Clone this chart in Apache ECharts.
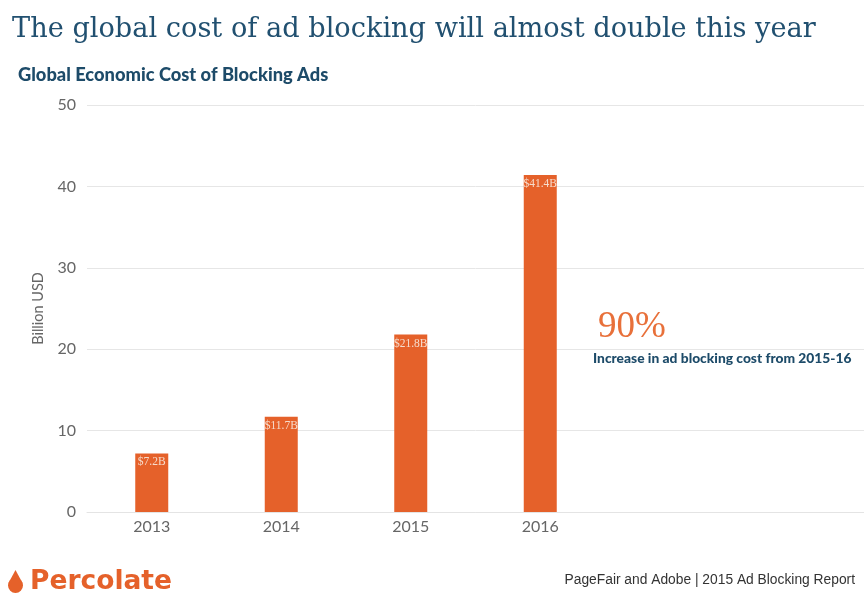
<!DOCTYPE html>
<html>
<head>
<meta charset="utf-8">
<script src="https://cdn.jsdelivr.net/npm/echarts@6/dist/echarts.min.js"></script>
<style>
  html, body { margin: 0; padding: 0; background: #ffffff; }
  #chart { width: 864px; height: 593px; }
</style>
</head>
<body>
<div id="chart"></div>
<script>
// Global economic cost of blocking ads, billion USD
const years = ['2013', '2014', '2015', '2016'];
const costs = [7.2, 11.7, 21.8, 41.4];
const costLabels = ['$7.2B', '$11.7B', '$21.8B', '$41.4B'];
const yTicks = [0, 10, 20, 30, 40, 50];

// two empty slots keep the plot running to the right edge, leaving room for the note
const slots = years.concat(['', '']);

const NAVY = '#1d4b69';
const ORANGE = '#e5612a';

const chart = echarts.init(document.getElementById('chart'), null, { renderer: 'canvas' });

chart.setOption({
  animation: false,
  backgroundColor: '#ffffff',
  title: [
    {
      text: 'The global cost of ad blocking will almost double this year',
      left: 12, top: 16, padding: 0,
      textStyle: { fontFamily: 'DejaVu Serif', fontWeight: 'normal', fontSize: 27.2, color: '#215070' }
    },
    {
      text: 'Global Economic Cost of Blocking Ads',
      left: 18, top: 66, padding: 0,
      textStyle: { fontFamily: 'Lato', fontWeight: 900, fontSize: 18.3, color: NAVY }
    },
    {
      text: '90%',
      left: 598, top: 309, padding: 0,
      textStyle: { fontFamily: 'Liberation Serif', fontWeight: 'normal', fontSize: 37, color: '#e8703a' }
    },
    {
      text: 'Increase in ad blocking cost from 2015-16',
      left: 593, top: 352, padding: 0,
      textStyle: { fontFamily: 'Lato', fontWeight: 900, fontSize: 13.8, color: NAVY }
    },
    {
      text: 'Percolate',
      left: 30, top: 569, padding: 0,
      textStyle: { fontFamily: 'DejaVu Sans', fontWeight: 'bold', fontSize: 26.5, color: ORANGE }
    },
    {
      text: 'PageFair and Adobe | 2015 Ad Blocking Report',
      right: 9, top: 573, padding: 0,
      textStyle: { fontFamily: 'Liberation Sans', fontWeight: 'normal', fontSize: 13.8, color: '#333333' }
    }
  ],
  graphic: [
    {
      // Percolate drop mark
      type: 'group',
      left: 8, top: 570,
      children: [
        { type: 'polygon', shape: { points: [[8, 0], [1, 13], [15, 13]] }, style: { fill: ORANGE } },
        { type: 'circle', shape: { cx: 8, cy: 15.5, r: 7.5 }, style: { fill: ORANGE } }
      ]
    }
  ],
  grid: { left: 87, right: 0, top: 105, bottom: 81, containLabel: false },
  xAxis: {
    type: 'category',
    data: slots,
    axisLine: { show: true, lineStyle: { color: '#e4e4e4', width: 1 } },
    axisTick: { show: false },
    axisLabel: { fontFamily: 'Lato', fontSize: 16, color: '#666666', margin: 7 }
  },
  yAxis: {
    type: 'value',
    min: yTicks[0],
    max: yTicks[yTicks.length - 1],
    interval: 10,
    name: 'Billion USD',
    nameLocation: 'middle',
    nameGap: 41,
    nameTextStyle: { fontFamily: 'Lato', fontSize: 14.5, color: '#666666' },
    axisLine: { show: false },
    axisTick: { show: false },
    axisLabel: { fontFamily: 'Lato', fontSize: 16, color: '#666666', margin: 11 },
    splitLine: { lineStyle: { color: '#e6e6e6', width: 1 } }
  },
  series: [
    {
      type: 'bar',
      data: costs,
      barWidth: 33,
      itemStyle: { color: ORANGE },
      label: {
        show: true,
        position: 'insideTop',
        distance: 3,
        formatter: p => costLabels[p.dataIndex],
        fontFamily: 'Liberation Serif',
        fontSize: 11.5,
        color: '#f6dccd'
      }
    }
  ]
});
</script>
</body>
</html>
